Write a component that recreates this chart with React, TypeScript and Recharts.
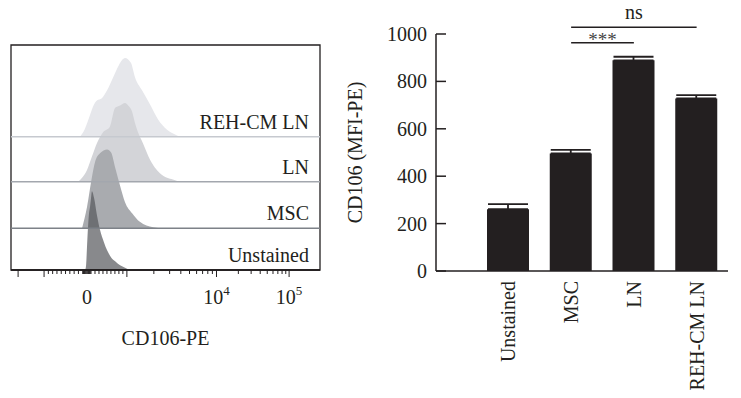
import React from 'react'
import {
  ComposedChart,
  Area,
  BarChart,
  Bar,
  ErrorBar,
  XAxis,
  YAxis,
  ReferenceLine,
  ReferenceArea
} from 'recharts'

const FONT = '"Liberation Serif", "Times New Roman", serif'
const INK = '#231f20'

// ---- bar panel data ----
const samples = ['Unstained', 'MSC', 'LN', 'REH-CM LN']
const meanMfi = [261, 496, 889, 728]
const semMfi = [21, 15, 15, 14]
const mfiTicks = [0, 200, 400, 600, 800, 1000]

// ---- histogram panel data ----
// x: display channel (0-1000 across the plot), y: % of mode
const unstainedX = [240, 243, 246, 249, 252, 256, 259, 262, 269, 278, 288, 301, 311, 324, 337, 353, 369, 385]
const unstainedY = [0, 6, 30, 53, 70, 81, 91, 100, 91, 70, 51, 35, 25, 16, 11, 6, 3, 0]
const mscX = [230, 246, 262, 272, 288, 311, 324, 337, 353, 369, 392, 417, 460, 482]
const mscY = [0, 27, 65, 84, 95, 100, 96, 77, 54, 33, 19, 8, 1, 0]
const lnX = [217, 230, 246, 262, 278, 298, 320, 337, 353, 369, 379, 392, 401, 411, 427, 450, 466, 482, 505, 524, 547]
const lnY = [0, 5, 15, 32, 49, 63, 70, 94, 97, 100, 97, 89, 75, 63, 49, 28, 18, 11, 5, 3, 0]
const rehX = [223, 239, 256, 265, 278, 294, 311, 330, 349, 369, 388, 401, 424, 450, 476, 505, 531, 547]
const rehY = [0, 10, 28, 38, 46, 49, 59, 75, 91, 100, 94, 76, 59, 41, 22, 9, 3, 0]

// biexponential axis: fluorescence value -> display channel
const anchorValues = [-10000, -1000, 0, 1000, 10000, 100000]
const anchorChannels = [23, 107, 246, 375, 665, 900]

const majorTicks = [-10000, -1000, 1000, 10000, 100000]
const minorTicks = [
  -900, -800, -700, -600, -500, -400, -300, -200,
  -100, -80, -60, -40, -20, 0, 20, 40, 60, 80, 100,
  200, 300, 400, 500, 600, 700, 800, 900,
  2000, 3000, 4000, 5000, 6000, 7000, 8000, 9000,
  20000, 30000, 40000, 50000, 60000, 70000, 80000, 90000
]
const labelTicks = [0, 10000, 100000]
const labelBase = ['0', '10', '10']
const labelExp = ['', '4', '5']

function toChannel(v: number) {
  let i = 0
  while (i < anchorValues.length - 2 && v > anchorValues[i + 1]) i++
  const a = anchorValues[i]
  const b = anchorValues[i + 1]
  const linear = a >= -1000 && b <= 1000
  const t = linear
    ? (v - a) / (b - a)
    : (Math.log10(Math.abs(v)) - Math.log10(Math.abs(a))) / (Math.log10(Math.abs(b)) - Math.log10(Math.abs(a)))
  return anchorChannels[i] + t * (anchorChannels[i + 1] - anchorChannels[i])
}

const allTicks = [...majorTicks, ...minorTicks]
const tickChannels = allTicks.map(toChannel)

const RIDGE = 1.75 // band units for a full-height histogram
const ridges = [
  { name: 'REH-CM LN', x: rehX, y: rehY, offset: 2.96, fill: '#e6e7eb', opacity: 1, line: '#c6c9cf' },
  { name: 'LN', x: lnX, y: lnY, offset: 1.96, fill: '#d3d4d8', opacity: 1, line: '#a3a7ae' },
  { name: 'MSC', x: mscX, y: mscY, offset: 0.93, fill: '#a9abaf', opacity: 1, line: '#7d8188' },
  { name: 'Unstained', x: unstainedX, y: unstainedY, offset: 0, fill: '#55575b', opacity: 0.7, line: INK }
]

const FlowTick = ({ x, y, payload }: any) => {
  const raw = allTicks.find((v) => Math.abs(toChannel(v) - payload.value) < 1e-6)
  const major = majorTicks.includes(raw as number)
  const li = labelTicks.indexOf(raw as number)
  return (
    <g>
      <line x1={x} x2={x} y1={y} y2={y + (major ? 7 : 4)} stroke={INK} strokeWidth={1} />
      {li >= 0 && (
        <text x={x} y={y + 34} textAnchor="middle" fill={INK} fontSize={20} fontFamily={FONT}>
          {labelBase[li]}
          {labelExp[li] && (
            <tspan dy={-9} fontSize={13}>
              {labelExp[li]}
            </tspan>
          )}
        </text>
      )}
    </g>
  )
}

const RidgeLabel = (name: string) => (props: any) => {
  const vb = props.viewBox
  return (
    <text x={vb.x + vb.width - 11} y={vb.y - 8} textAnchor="end" fill={INK} fontSize={20} fontFamily={FONT}>
      {name}
    </text>
  )
}

const MfiTick = ({ x, y, payload }: any) => (
  <g>
    <line x1={x + 9} x2={x + 19} y1={y} y2={y} stroke={INK} strokeWidth={1.5} />
    <text x={x} y={y} textAnchor="end" dominantBaseline="central" fill={INK} fontSize={20} fontFamily={FONT}>
      {payload.value}
    </text>
  </g>
)

const SampleTick = ({ x, y, payload }: any) => {
  const ty = y + 10
  return (
    <text
      x={x}
      y={ty}
      transform={`rotate(-90 ${x} ${ty})`}
      textAnchor="end"
      dominantBaseline="central"
      fill={INK}
      fontSize={20}
      fontFamily={FONT}
    >
      {payload.value}
    </text>
  )
}

const MfiTitle = (props: any) => {
  const vb = props.viewBox
  const cx = vb.x + 15
  const cy = vb.y + vb.height / 2
  return (
    <text
      x={cx}
      y={cy}
      transform={`rotate(-90 ${cx} ${cy})`}
      textAnchor="middle"
      dominantBaseline="central"
      fill={INK}
      fontSize={20}
      fontFamily={FONT}
    >
      CD106 (MFI-PE)
    </text>
  )
}

const barData = samples.map((s, i) => ({ sample: s, mfi: meanMfi[i], err: [0, semMfi[i]] }))

export default function App() {
  return (
    <div style={{ position: 'absolute', left: 0, top: 0, width: 741, height: 398, background: '#fff' }}>
      <div style={{ position: 'absolute', left: 0, top: 0 }}>
        <ComposedChart width={330} height={398} margin={{ top: 45, right: 10, bottom: 0, left: 11 }}>
          <XAxis
            dataKey="ch"
            type="number"
            domain={[0, 1000]}
            ticks={tickChannels}
            interval={0}
            height={128}
            tickSize={0}
            tickMargin={0}
            tickLine={false}
            axisLine={{ stroke: INK, strokeWidth: 1.3 }}
            tick={(p: any) => <FlowTick {...p} />}
            allowDataOverflow
            label={{ value: 'CD106-PE', position: 'insideBottom', offset: 53, fill: INK, fontSize: 20, fontFamily: FONT }}
          />
          <YAxis hide type="number" domain={[0, 5]} allowDataOverflow />
          {ridges.map((r) => (
            <Area
              key={r.name}
              data={r.x.map((xv, i) => ({ ch: xv, range: [r.offset, r.offset + (r.y[i] / 100) * RIDGE] }))}
              dataKey="range"
              type="monotone"
              stroke="none"
              fill={r.fill}
              fillOpacity={r.opacity}
              isAnimationActive={false}
            />
          ))}
          {ridges.map((r) => (
            <ReferenceLine
              key={'l' + r.name}
              y={r.offset}
              stroke={r.line}
              strokeWidth={1.5}
              label={{ content: RidgeLabel(r.name) }}
            />
          ))}
          <ReferenceArea x1={0} x2={1000} y1={0} y2={5} fill="none" stroke={INK} strokeWidth={1.3} />
        </ComposedChart>
      </div>
      <div style={{ position: 'absolute', left: 340, top: 0 }}>
        <BarChart width={401} height={398} data={barData} margin={{ top: 34, right: 13, bottom: 0, left: 0 }}>
          <XAxis
            dataKey="sample"
            height={127}
            padding={{ left: 41, right: 0 }}
            tickSize={0}
            tickMargin={0}
            tickLine={false}
            interval={0}
            axisLine={{ stroke: INK, strokeWidth: 1.5 }}
            tick={(p: any) => <SampleTick {...p} />}
          />
          <YAxis
            type="number"
            domain={[0, 1000]}
            ticks={mfiTicks}
            interval={0}
            width={96}
            tickSize={0}
            tickMargin={9}
            tickLine={false}
            axisLine={{ stroke: INK, strokeWidth: 1.5 }}
            tick={(p: any) => <MfiTick {...p} />}
            label={<MfiTitle />}
          />
          <Bar dataKey="mfi" fill={INK} barSize={42} isAnimationActive={false}>
            <ErrorBar dataKey="err" direction="y" width={20} stroke={INK} strokeWidth={1.8} />
          </Bar>
          <ReferenceLine
            segment={[{ x: 'MSC', y: 1028 }, { x: 'REH-CM LN', y: 1028 }]}
            ifOverflow="visible"
            stroke={INK}
            strokeWidth={1.5}
            label={{ value: 'ns', position: 'top', offset: 8, fill: INK, fontSize: 20, fontFamily: FONT }}
          />
          <ReferenceLine
            segment={[{ x: 'MSC', y: 963 }, { x: 'LN', y: 963 }]}
            ifOverflow="visible"
            stroke={INK}
            strokeWidth={1.5}
            label={{ value: '***', position: 'top', offset: -3, fill: '#444', fontSize: 19, fontFamily: FONT }}
          />
        </BarChart>
      </div>
    </div>
  )
}
